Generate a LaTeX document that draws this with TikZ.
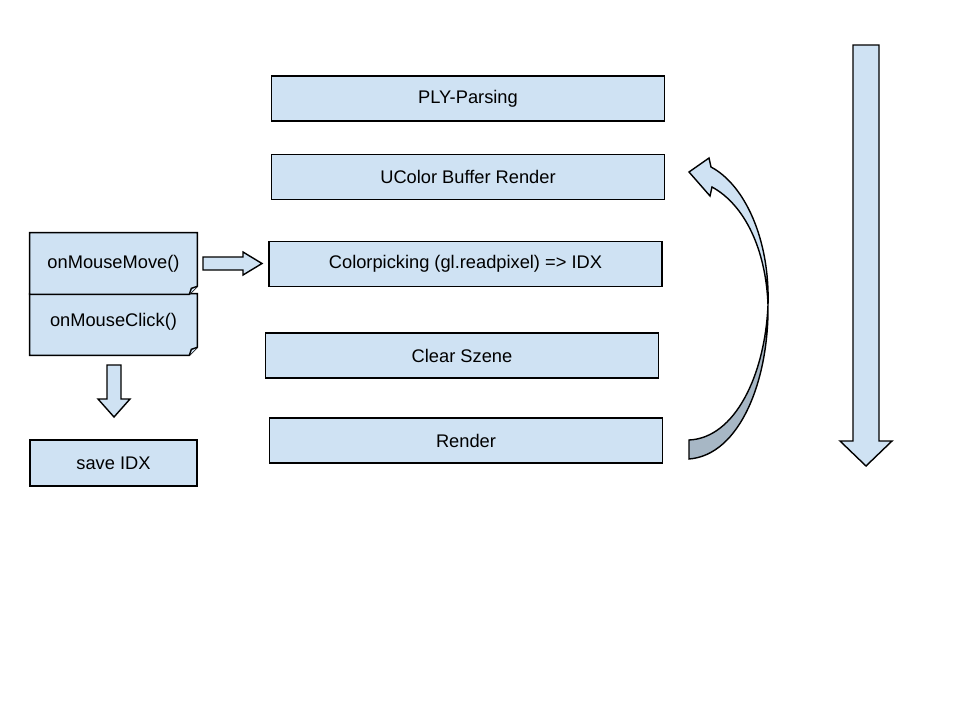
\documentclass[tikz,border=0pt]{standalone}
\usepackage{fontspec}
\setmainfont{Liberation Sans}
\usetikzlibrary{backgrounds}

\definecolor{boxblue}{HTML}{CFE2F3}
\definecolor{backblue}{HTML}{A7B7C5}

\tikzset{
  stage/.style={draw=black, fill=boxblue, line width=0.8pt, minimum width=7.86cm, minimum height=0.9cm, font=\fontsize{10.4pt}{12pt}\selectfont},
  note/.style={minimum width=3.34cm, minimum height=1.22cm, font=\fontsize{10.4pt}{12pt}\selectfont},
  blockarrow/.style={draw=black, fill=boxblue, line width=0.8pt, line join=miter}
}

\begin{document}
\begin{tikzpicture}[x=0.02cm, y=-0.02cm]
      \useasboundingbox (0,0) rectangle (960,720);

      \node [stage] (ply) at (468, 98.5) {PLY-Parsing};
      \node [stage] (ucolor) at (468, 177) {UColor Buffer Render};
      \node [stage] (picking) at (465.5, 264) {Colorpicking (gl.readpixel) => IDX};
      \node [stage] (clear) at (462, 355.5) {Clear Szene};
      \node [stage] (render) at (466, 440.5) {Render};

      \node [note] (click) at (113.5, 324.5) {};
      \node [note] (move) at (113.5, 263.5) {};
      \node [stage, minimum width=3.34cm, minimum height=0.92cm] (save) at (113.5, 463) {save IDX};

      % the two note boxes with folded corner
      \foreach \n in {click, move} {
        \draw [blockarrow] (\n.north west) -- (\n.north east) -- ([shift={(0,-8)}]\n.south east)
              -- ([shift={(-8,0)}]\n.south east) -- (\n.south west) -- cycle;
        \draw [blockarrow] ([shift={(-8,0)}]\n.south east) -- ([shift={(-6,-6)}]\n.south east)
              -- ([shift={(0,-8)}]\n.south east);
      }
      \node [font=\fontsize{10.4pt}{12pt}\selectfont] (movetext) at (move) {onMouseMove()};
      \node [font=\fontsize{10.4pt}{12pt}\selectfont] (clicktext) at ([yshift=0.06cm]click) {onMouseClick()};

      % block arrows
      \draw [blockarrow] (203,257) -- (243,257) -- (243,252) -- (262,263.5) -- (243,275) -- (243,270) -- (203,270) -- cycle;
      \draw [blockarrow] (107,365) -- (121,365) -- (121,399) -- (130,399) -- (114,417) -- (98,399) -- (107,399) -- cycle;
      \draw [blockarrow] (853,45) -- (879,45) -- (879,441) -- (892,441) -- (866,466) -- (840,441) -- (853,441) -- cycle;

      % curved arrow from render back up to ucolor
      \draw [blockarrow, fill=backblue] (689,459) .. controls (740,455) and (769,380) .. (768,305)
            .. controls (765,375) and (735,438) .. (689,440) -- cycle;
      \draw [blockarrow] (768,305) .. controls (770,240) and (745,185) .. (711,167) -- (709,158) -- (689,172)
            -- (710,196) -- (712,187) .. controls (745,205) and (766,250) .. (768,305) -- cycle;

\end{tikzpicture}
\end{document}
